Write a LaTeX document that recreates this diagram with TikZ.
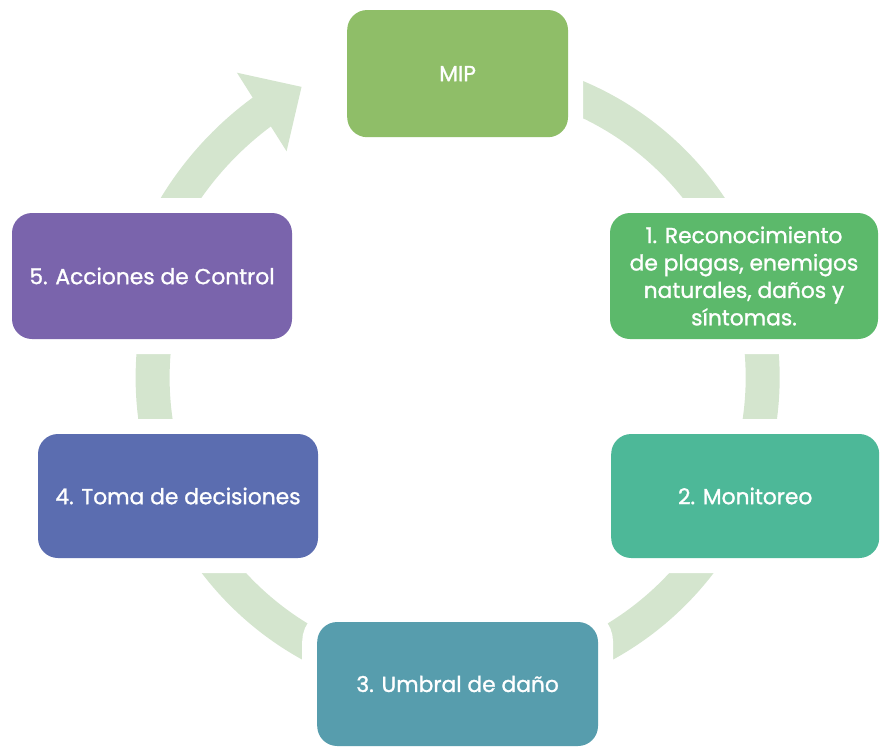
\documentclass[tikz,border=0pt]{standalone}
\usepackage{fontspec}
\setmainfont{Poppins}[FakeBold=1.2]
\usepackage{tikz}
\usetikzlibrary{arrows.meta, bending, positioning, backgrounds}
\definecolor{mipgreen}{RGB}{143, 190, 104}
\definecolor{recgreen}{RGB}{92, 185, 107}
\definecolor{monteal}{RGB}{77, 184, 152}
\definecolor{umbblue}{RGB}{87, 157, 173}
\definecolor{tomblue}{RGB}{91, 109, 176}
\definecolor{accpurple}{RGB}{122, 100, 172}
\definecolor{ringgreen}{RGB}{212, 229, 206}

\begin{document}
\begin{tikzpicture}[
    box/.style={rectangle, rounded corners=0.5cm, inner sep=0pt,
                minimum width=7cm, minimum height=3.1cm,
                text=white, font=\fontsize{15.5}{19.5}\selectfont, align=center,
                preaction={draw=white, line width=0.75cm}},
    ring/.style={draw=ringgreen, line width=0.85cm}
]
    \useasboundingbox (0,0) rectangle (22,-18.7);
    \coordinate (c) at (11.44,-9.44);

    \node[box, fill=mipgreen, minimum width=5.52cm, minimum height=3.18cm] (mip) at (11.44,-1.84) {MIP};
    \node[box, fill=recgreen, minimum width=6.7cm, minimum height=3.15cm] (rec) at (18.6,-6.9)
        {1. Reconocimiento\\de plagas, enemigos\\naturales, daños y\\síntomas.};
    \node[box, fill=monteal, minimum width=6.7cm] (mon) at (18.63,-12.4) {2. Monitoreo};
    \node[box, fill=umbblue, minimum width=7.02cm] (umb) at (11.44,-17.1) {3. Umbral de daño};
    \node[box, fill=tomblue] (tom) at (4.45,-12.4) {4. Toma de decisiones};
    \node[box, fill=accpurple, minimum height=3.15cm] (acc) at (3.8,-6.9) {5. Acciones de Control};

    % ring behind the boxes, cut by their white borders
    \begin{scope}[on background layer]
        \draw[ring] ([shift={(75:7.625)}]c) arc[start angle=75, end angle=-200, radius=7.625];
        \draw[ring, -{Triangle[width=2.25cm, length=1.18cm]}]
            ([shift={(155:8.25)}]c) arc[start angle=155, end angle=118.2, radius=8.25];
    \end{scope}
\end{tikzpicture}
\end{document}
